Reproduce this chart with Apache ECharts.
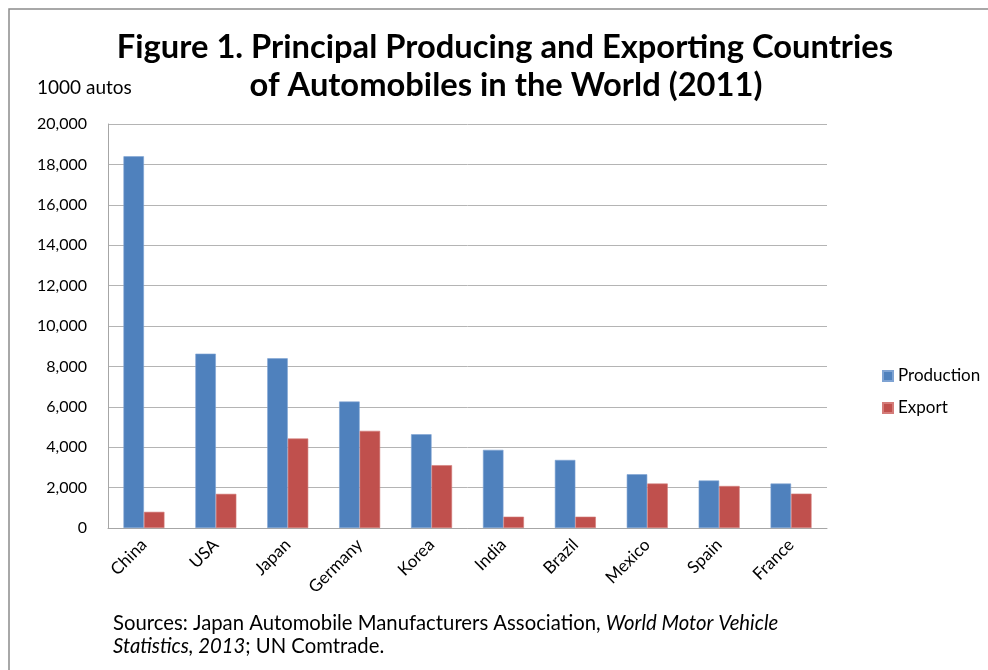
<!DOCTYPE html>
<html>
<head>
<meta charset="utf-8">
<script src="https://cdn.jsdelivr.net/npm/echarts@6/dist/echarts.min.js"></script>
<style>html,body{margin:0;padding:0;background:#fff}#c{width:988px;height:670px}</style>
</head>
<body>
<div id="c"></div>
<script>
const categories = ['China','USA','Japan','Germany','Korea','India','Brazil','Mexico','Spain','France'];
const production = [18400, 8630, 8400, 6260, 4640, 3870, 3370, 2660, 2350, 2200];
const exportVals = [800, 1690, 4430, 4810, 3110, 560, 560, 2200, 2080, 1700];
const yTicks = { min: 0, max: 20000, interval: 2000 };

const chart = echarts.init(document.getElementById('c'));
const font = 'Lato, "Open Sans", sans-serif';
chart.setOption({
  animation: false,
  backgroundColor: '#fff',
  graphic: [
    { type: 'rect', shape: { x: 9, y: 9, width: 1000, height: 700 }, style: { fill: 'none', stroke: '#8c8c8c', lineWidth: 1.5 }, z: -1 },
    { type: 'text', x: 505, y: 47, style: { text: 'Figure 1. Principal Producing and Exporting Countries', font: 'bold 32.7px ' + font, fill: '#000', textAlign: 'center', textVerticalAlign: 'middle' } },
    { type: 'text', x: 506, y: 85, style: { text: 'of Automobiles in the World (2011)', font: 'bold 32.7px ' + font, fill: '#000', textAlign: 'center', textVerticalAlign: 'middle' } },
    { type: 'text', x: 37, y: 88, style: { text: '1000 autos', font: '19px ' + font, fill: '#000', textVerticalAlign: 'middle' } },
    { type: 'text', x: 113, y: 612, style: {
      text: '{n|Sources: Japan Automobile Manufacturers Association, }{i|World Motor Vehicle}\n{i|Statistics, 2013}{n|; UN Comtrade.}',
      lineHeight: 23,
      rich: { n: { font: '20.3px ' + font, fill: '#000', lineHeight: 23 }, i: { font: 'italic 20.3px ' + font, fill: '#000', lineHeight: 23 } }
    } }
  ],
  legend: {
    orient: 'vertical', left: 877, top: 361, itemWidth: 10, itemHeight: 10, itemGap: 12,
    icon: 'rect',
    textStyle: { fontFamily: font, fontSize: 17, color: '#000', lineHeight: 20 },
    data: ['Production', 'Export']
  },
  grid: { left: 108, right: 161, top: 124, bottom: 142, containLabel: false },
  xAxis: {
    type: 'category', data: categories,
    axisLine: { lineStyle: { color: '#a6a6a6', width: 1 } },
    axisTick: { show: false },
    axisLabel: { rotate: 45, fontFamily: font, fontSize: 17, color: '#000', margin: 14, interval: 0 }
  },
  yAxis: {
    type: 'value', min: yTicks.min, max: yTicks.max, interval: yTicks.interval,
    axisLine: { show: true, lineStyle: { color: '#a6a6a6', width: 1 } },
    axisTick: { show: false },
    splitLine: { lineStyle: { color: '#b4b4b4', width: 1 } },
    axisLabel: { fontFamily: font, fontSize: 16, color: '#000', margin: 21,
      formatter: v => v.toLocaleString('en-US') }
  },
  series: [
    { name: 'Production', type: 'bar', data: production, barGap: '0%', barCategoryGap: '43%',
      itemStyle: { color: '#4f81bd', borderColor: '#7ea3d3', borderWidth: 0.6 } },
    { name: 'Export', type: 'bar', data: exportVals, barGap: '0%', barCategoryGap: '43%',
      itemStyle: { color: '#c0504d', borderColor: '#d47c79', borderWidth: 0.6 } }
  ]
});
</script>
</body>
</html>
